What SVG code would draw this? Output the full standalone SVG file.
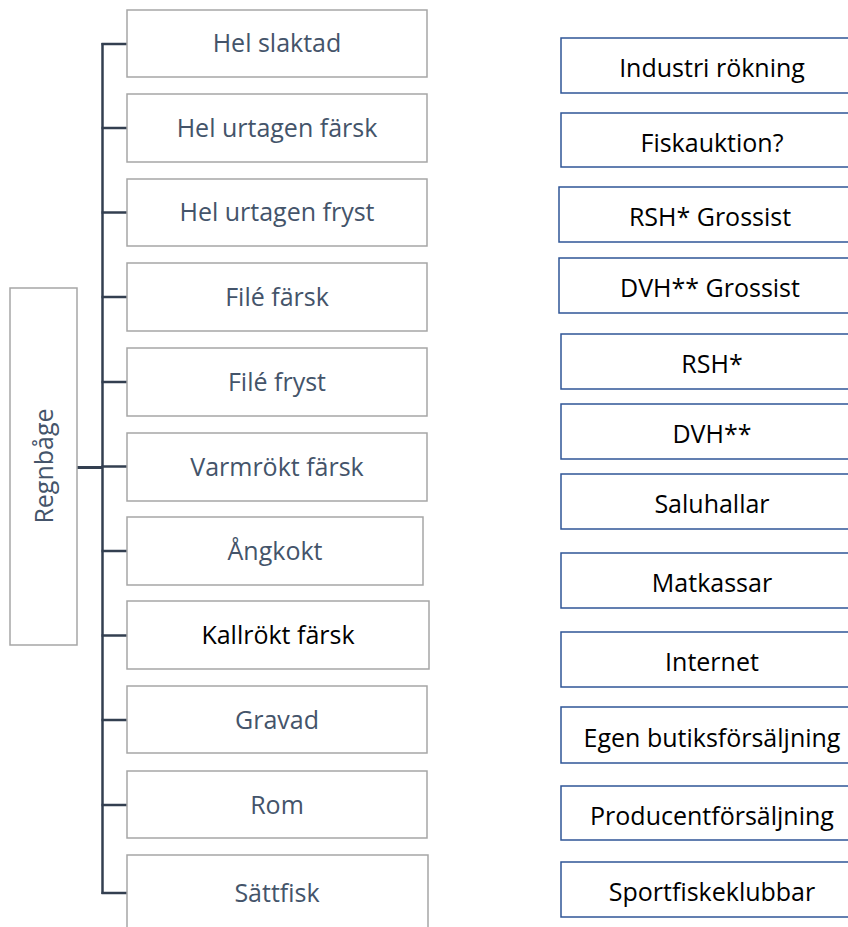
<svg xmlns="http://www.w3.org/2000/svg" width="848" height="927" viewBox="0 0 848 927">
  <style>
    .bg { fill: #ffffff; }
    .prod rect { fill: #ffffff; stroke: #a6a6a6; stroke-width: 1.5; }
    .prod text { font-family: "Open Sans", "Liberation Sans", sans-serif; font-size: 25px; fill: #44546a; text-anchor: middle; }
    .prod text.dark { fill: #000000; }
    .chan rect { fill: #ffffff; stroke: #2f5597; stroke-width: 1.5; }
    .chan text { font-family: "Open Sans", "Liberation Sans", sans-serif; font-size: 25px; fill: #000000; text-anchor: middle; }
    .links line { stroke: #333f50; stroke-width: 2.5; fill: none; }
  </style>
  <rect class="bg" x="0" y="0" width="848" height="927"/>

  <!-- connectors: root to spine, spine, and branch ticks -->
  <g id="connectors" class="links">
    <line x1="77" y1="467.5" x2="103" y2="467.5" style="stroke-width:3"/>
    <line x1="102.5" y1="43" x2="102.5" y2="894"/>
    <line x1="101.5" y1="44" x2="127" y2="44"/>
    <line x1="101.5" y1="128" x2="127" y2="128"/>
    <line x1="101.5" y1="212.5" x2="127" y2="212.5"/>
    <line x1="101.5" y1="297" x2="127" y2="297"/>
    <line x1="101.5" y1="382" x2="127" y2="382"/>
    <line x1="101.5" y1="466.5" x2="127" y2="466.5"/>
    <line x1="101.5" y1="551" x2="127" y2="551"/>
    <line x1="101.5" y1="635.5" x2="127" y2="635.5"/>
    <line x1="101.5" y1="720" x2="127" y2="720"/>
    <line x1="101.5" y1="805" x2="127" y2="805"/>
    <line x1="101.5" y1="893" x2="127" y2="893"/>
  </g>

  <!-- root -->
  <g id="root" class="prod">
    <rect x="10" y="288" width="67" height="357"/>
    <text transform="translate(52.5 466) rotate(-90)">Regnbåge</text>
  </g>

  <!-- product forms -->
  <g id="p1" class="prod"><rect x="127" y="10" width="300" height="67"/><text x="277" y="52">Hel slaktad</text></g>
  <g id="p2" class="prod"><rect x="127" y="94" width="300" height="68"/><text x="277" y="136.5">Hel urtagen färsk</text></g>
  <g id="p3" class="prod"><rect x="127" y="179" width="300" height="67"/><text x="277" y="221">Hel urtagen fryst</text></g>
  <g id="p4" class="prod"><rect x="127" y="263" width="300" height="68"/><text x="277" y="305.5">Filé färsk</text></g>
  <g id="p5" class="prod"><rect x="127" y="348" width="300" height="68"/><text x="277" y="390.5">Filé fryst</text></g>
  <g id="p6" class="prod"><rect x="127" y="433" width="300" height="68"/><text x="277" y="475.5">Varmrökt färsk</text></g>
  <g id="p7" class="prod"><rect x="127" y="517" width="296" height="68"/><text x="275" y="559.5">Ångkokt</text></g>
  <g id="p8" class="prod"><rect x="127" y="601" width="302" height="68"/><text class="dark" x="278" y="643.5">Kallrökt färsk</text></g>
  <g id="p9" class="prod"><rect x="127" y="686" width="300" height="67"/><text x="277" y="728.5">Gravad</text></g>
  <g id="p10" class="prod"><rect x="127" y="771" width="300" height="67"/><text x="277" y="813.5">Rom</text></g>
  <g id="p11" class="prod"><rect x="127" y="855" width="301" height="80"/><text x="277" y="901.5">Sättfisk</text></g>

  <!-- sales channels -->
  <g id="c1" class="chan"><rect x="561" y="38" width="302" height="55"/><text x="712" y="77">Industri rökning</text></g>
  <g id="c2" class="chan"><rect x="561" y="113" width="302" height="54"/><text x="712" y="151.5">Fiskauktion?</text></g>
  <g id="c3" class="chan"><rect x="559" y="187" width="302" height="55"/><text x="710" y="226">RSH* Grossist</text></g>
  <g id="c4" class="chan"><rect x="559" y="258" width="302" height="55"/><text x="710" y="297">DVH** Grossist</text></g>
  <g id="c5" class="chan"><rect x="561" y="334" width="302" height="55"/><text x="712" y="373">RSH*</text></g>
  <g id="c6" class="chan"><rect x="561" y="404" width="302" height="55"/><text x="712" y="443">DVH**</text></g>
  <g id="c7" class="chan"><rect x="561" y="474" width="302" height="55"/><text x="712" y="513">Saluhallar</text></g>
  <g id="c8" class="chan"><rect x="561" y="553" width="302" height="55"/><text x="712" y="592">Matkassar</text></g>
  <g id="c9" class="chan"><rect x="561" y="632" width="302" height="55"/><text x="712" y="671">Internet</text></g>
  <g id="c10" class="chan"><rect x="561" y="707" width="302" height="56"/><text x="712" y="746.5">Egen butiksförsäljning</text></g>
  <g id="c11" class="chan"><rect x="561" y="786" width="302" height="54"/><text x="712" y="824.5">Producentförsäljning</text></g>
  <g id="c12" class="chan"><rect x="561" y="862" width="302" height="55"/><text x="712" y="901">Sportfiskeklubbar</text></g>
</svg>
